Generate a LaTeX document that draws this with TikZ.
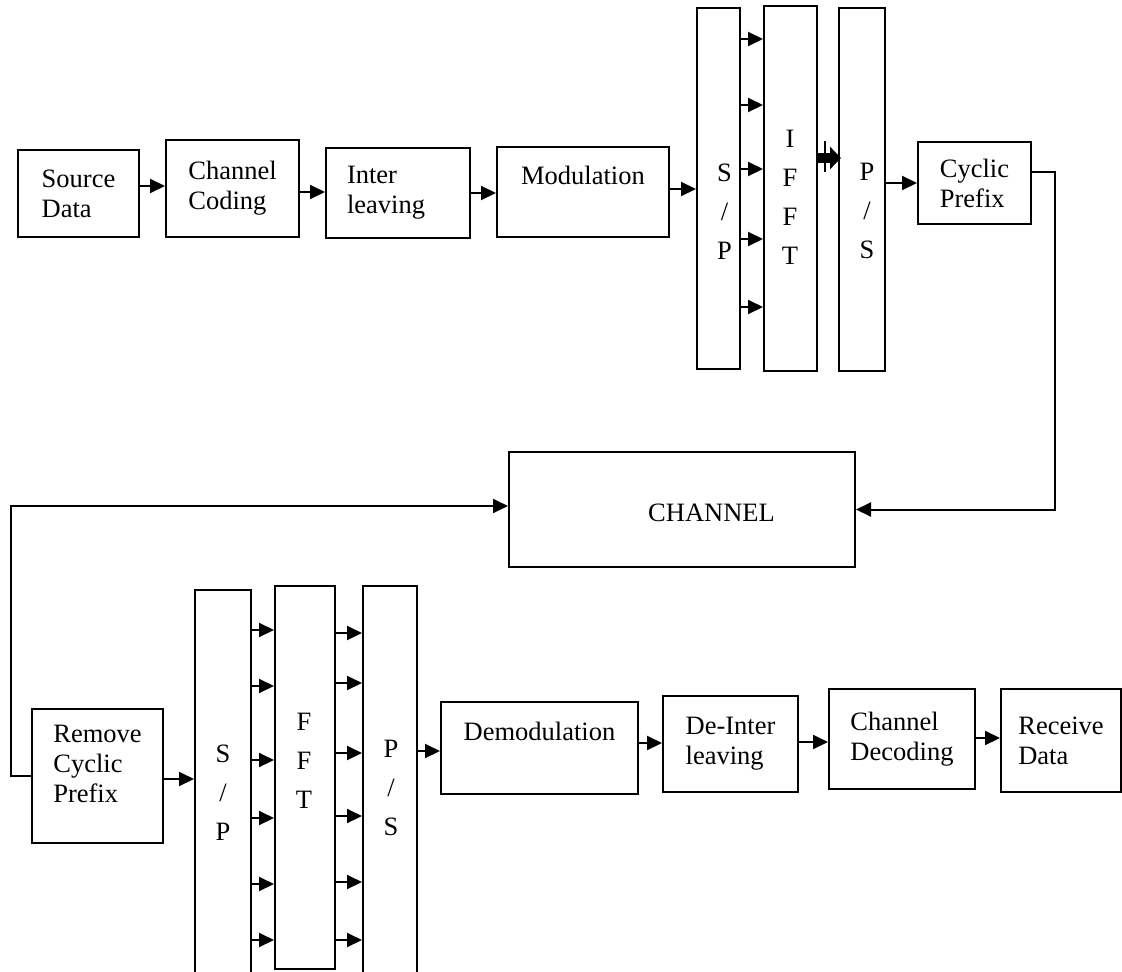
\documentclass[tikz,border=0pt]{standalone}
\usepackage{fontspec}
\setmainfont{Liberation Serif}
\usetikzlibrary{arrows.meta}

\begin{document}
\begin{tikzpicture}[x=1pt,y=-1pt]
    % Define plain block-diagram styles
    \tikzset{
        block/.style={
            draw,
            line width=2pt,
            align=left,
            inner sep=0pt,
            font=\fontsize{26.5}{30}\selectfont
        },
        bar/.style={
            draw,
            line width=2pt,
            inner sep=0pt
        },
        letters/.style={
            align=center,
            inner sep=0pt,
            font=\fontsize{26.5}{39}\selectfont
        },
        arrow/.style={
            -{Triangle[length=15pt,width=14pt]},
            line width=2pt
        },
        fat/.style={
            -{Triangle[length=11pt,width=22pt]},
            line width=10pt
        },
        link/.style={
            line width=2pt
        }
    }

    % Page size
    \useasboundingbox (0,0) rectangle (1122,972);
    \clip (0,0) rectangle (1122,972);

    % Transmitter chain
    \node[block, minimum width=121pt, minimum height=87pt] (src) at (78.5,193.5) {Source\\Data};
    \node[block, minimum width=133pt, minimum height=97pt] (chc) at (232.5,188.5) {Channel\\Coding};
    \node[block, minimum width=144pt, minimum height=90pt, text width=102pt, inner xsep=21pt] (itl) at (398,193) {Inter\\leaving};
    \node[block, minimum width=172pt, minimum height=90pt, text depth=34pt] (mod) at (583,192) {Modulation};

    \node[bar, minimum width=43pt, minimum height=361pt] (sp1) at (718.5,188.5) {};
    \node[bar, minimum width=53pt, minimum height=365pt] (ifft) at (790.5,188.5) {};
    \node[bar, minimum width=46pt, minimum height=363pt] (ps1) at (862,189.5) {};
    \node[letters] (sp1txt) at (724.5,211.5) {S\\/\\P};
    \node[letters] (iffttxt) at (790,197.5) {I\\F\\F\\T};
    \node[letters] (ps1txt) at (867,211) {P\\/\\S};

    \node[block, minimum width=113pt, minimum height=82pt] (cp) at (974.5,183) {Cyclic\\Prefix};

    % Channel
    \node[bar, minimum width=346pt, minimum height=115pt] (chan) at (682,509.5) {};
    \node[letters] (chantxt) at (711.5,513) {CHANNEL};

    % Receiver chain
    \node[block, minimum width=131pt, minimum height=134pt, text depth=24pt] (rcp) at (97.5,776) {Remove\\Cyclic\\Prefix};

    \node[bar, minimum width=56pt, minimum height=410pt] (sp2) at (223,795) {};
    \node[bar, minimum width=60pt, minimum height=383pt] (fft) at (305,777.5) {};
    \node[bar, minimum width=54pt, minimum height=414pt] (ps2) at (390,793) {};
    \node[letters] (sp2txt) at (223,792.5) {S\\/\\P};
    \node[letters] (ffttxt) at (304,761) {F\\F\\T};
    \node[letters] (ps2txt) at (391,788) {P\\/\\S};

    \node[block, minimum width=197pt, minimum height=92pt, text depth=34pt] (dem) at (539.5,748) {Demodulation};
    \node[block, minimum width=135pt, minimum height=96pt] (dil) at (730.5,744) {De-Inter\\leaving};
    \node[block, minimum width=146pt, minimum height=100pt] (cdc) at (902,739) {Channel\\Decoding};
    \node[block, minimum width=120pt, minimum height=103pt] (rcv) at (1061,740.5) {Receive\\Data};

    % Transmitter arrows
    \draw[arrow] (src.east |- 0,186) -- (chc.west |- 0,186);
    \draw[arrow] (chc.east |- 0,192) -- (itl.west |- 0,192);
    \draw[arrow] (itl.east |- 0,193) -- (mod.west |- 0,193);
    \draw[arrow] (mod.east |- 0,189) -- (sp1.west |- 0,189);
    \foreach \y in {39,105,169,239,307}
        \draw[arrow] (sp1.east |- 0,\y) -- (ifft.west |- 0,\y);
    \coordinate (tick) at (825,158);
    \draw[fat] (ifft.east |- tick) -- ([xshift=3pt]ps1.west |- tick);
    \draw[link] ([yshift=17pt]tick) -- ([yshift=-14pt]tick);
    \draw[arrow] (ps1.east |- cp.west) -- (cp.west);

    % Through the channel
    \draw[arrow] (cp.east |- 0,172) -- ++(23,0) |- (chan.east);
    \draw[arrow] (rcp.west) -- ++(-20,0) |- (chan.west |- 0,506);

    % Receiver arrows
    \draw[arrow] (rcp.east |- 0,779) -- (sp2.west |- 0,779);
    \foreach \y in {630,686,760,818,884,940}
        \draw[arrow] (sp2.east |- 0,\y) -- (fft.west |- 0,\y);
    \foreach \y in {633,683,753,816,882,940}
        \draw[arrow] (fft.east |- 0,\y) -- (ps2.west |- 0,\y);
    \draw[arrow] (ps2.east |- 0,751) -- (dem.west |- 0,751);
    \draw[arrow] (dem.east |- 0,743) -- (dil.west |- 0,743);
    \draw[arrow] (dil.east |- 0,742) -- (cdc.west |- 0,742);
    \draw[arrow] (cdc.east |- 0,738) -- (rcv.west |- 0,738);

\end{tikzpicture}
\end{document}
